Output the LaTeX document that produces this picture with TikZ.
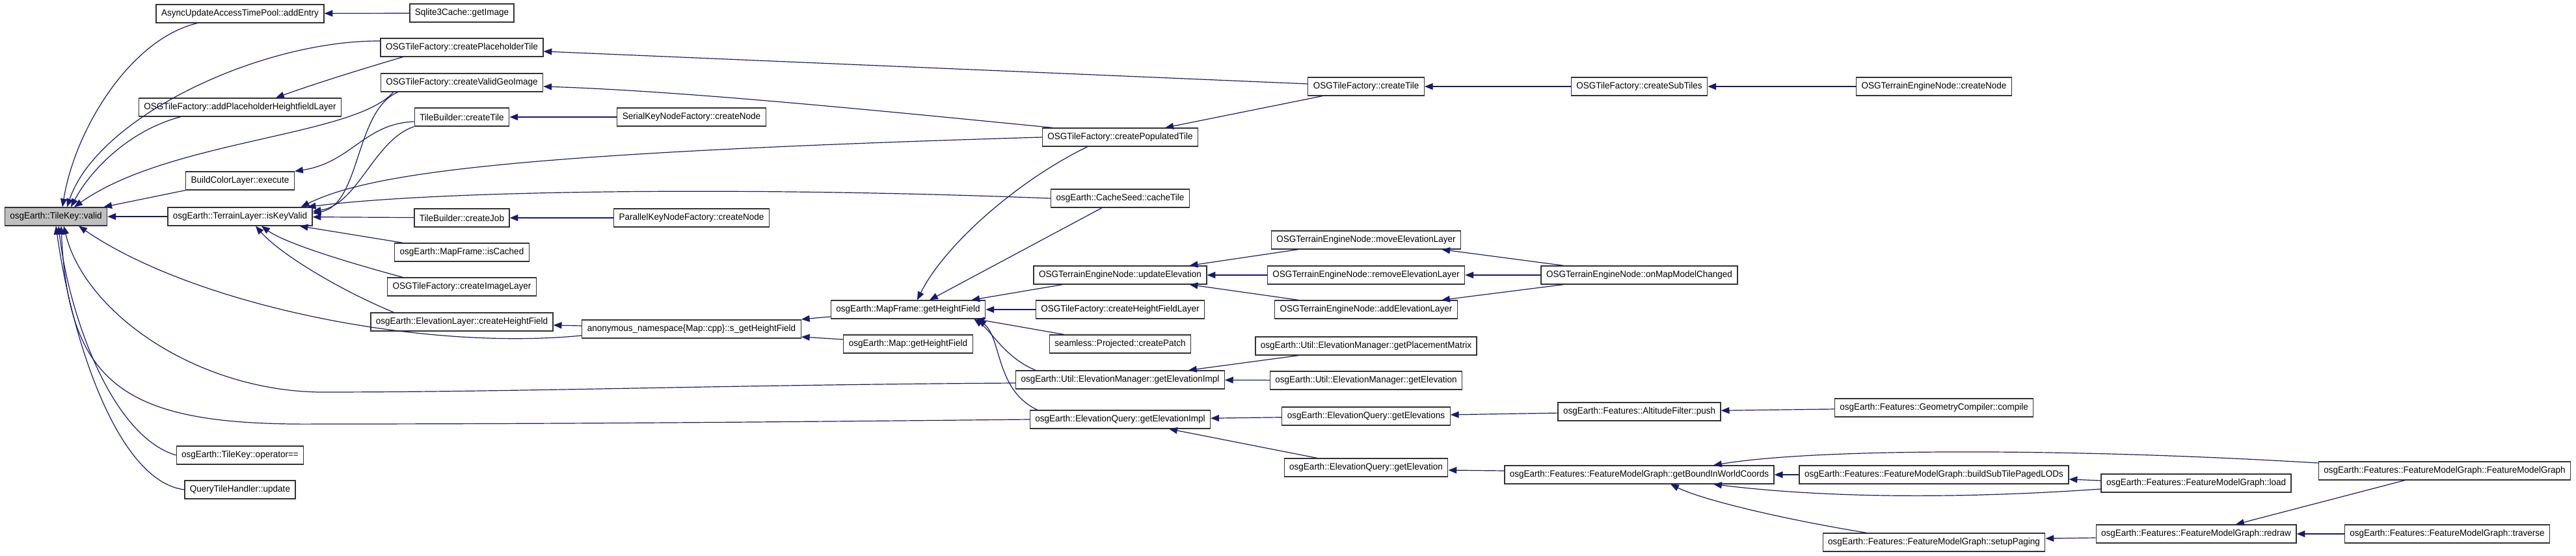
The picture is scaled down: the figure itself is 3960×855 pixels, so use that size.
\documentclass[tikz,border=0pt]{standalone}
\usepackage{fontspec}
\setmainfont{Liberation Sans}[FakeStretch=0.96]
\usetikzlibrary{arrows.meta}
\definecolor{callblue}{HTML}{191970}
\begin{document}
\begin{tikzpicture}[x=0.25mm, y=-0.25mm,
  fnbox/.style={draw=black!80, line width=0.9pt, rectangle, fill=white,
                minimum height=7mm, inner xsep=2mm,
                font=\fontsize{10}{12}\selectfont},
  rootbox/.style={fnbox, fill=black!25},
  call/.style={draw=callblue, line width=0.85pt,
               -{Triangle[length=3.2mm, width=2.5mm]}},
]
\useasboundingbox (0,0) rectangle (3960,855);
\node[rootbox] (valid) at (86,333) {osgEarth::TileKey::valid};
\node[fnbox] (addentry) at (369,21) {AsyncUpdateAccessTimePool::addEntry};
\node[fnbox] (addplaceholder) at (369,165) {OSGTileFactory::addPlaceholderHeightfieldLayer};
\node[fnbox] (buildcolor) at (369,278) {BuildColorLayer::execute};
\node[fnbox] (keyvalid) at (369,333) {osgEarth::TerrainLayer::isKeyValid};
\node[fnbox] (opeq) at (369,700) {osgEarth::TileKey::operator==};
\node[fnbox] (querytile) at (369,753) {QueryTileHandler::update};
\node[fnbox] (sqlite) at (710,20) {Sqlite3Cache::getImage};
\node[fnbox] (placeholdertile) at (710,73) {OSGTileFactory::createPlaceholderTile};
\node[fnbox] (validgeo) at (710,127) {OSGTileFactory::createValidGeoImage};
\node[fnbox] (tbtile) at (710,180) {TileBuilder::createTile};
\node[fnbox] (tbjob) at (710,335) {TileBuilder::createJob};
\node[fnbox] (iscached) at (710,388) {osgEarth::MapFrame::isCached};
\node[fnbox] (imagelayer) at (710,441) {OSGTileFactory::createImageLayer};
\node[fnbox] (elevhf) at (710,495) {osgEarth::ElevationLayer::createHeightField};
\node[fnbox] (serialnode) at (1063,180) {SerialKeyNodeFactory::createNode};
\node[fnbox] (parallelnode) at (1063,335) {ParallelKeyNodeFactory::createNode};
\node[fnbox] (sgethf) at (1063,506) {anonymous\_namespace\{Map::cpp\}::s\_getHeightField};
\node[fnbox] (mfgethf) at (1396,476) {osgEarth::MapFrame::getHeightField};
\node[fnbox] (mapgethf) at (1396,529) {osgEarth::Map::getHeightField};
\node[fnbox] (populated) at (1722,211) {OSGTileFactory::createPopulatedTile};
\node[fnbox] (cacheseed) at (1722,305) {osgEarth::CacheSeed::cacheTile};
\node[fnbox] (updelev) at (1722,423) {OSGTerrainEngineNode::updateElevation};
\node[fnbox] (hflayer) at (1722,476) {OSGTileFactory::createHeightFieldLayer};
\node[fnbox] (createpatch) at (1722,529) {seamless::Projected::createPatch};
\node[fnbox] (emelevimpl) at (1722,584) {osgEarth::Util::ElevationManager::getElevationImpl};
\node[fnbox] (eqelevimpl) at (1722,645) {osgEarth::ElevationQuery::getElevationImpl};
\node[fnbox] (createtile) at (2100,133) {OSGTileFactory::createTile};
\node[fnbox] (moveelev) at (2100,369) {OSGTerrainEngineNode::moveElevationLayer};
\node[fnbox] (removeelev) at (2100,423) {OSGTerrainEngineNode::removeElevationLayer};
\node[fnbox] (addelev) at (2100,476) {OSGTerrainEngineNode::addElevationLayer};
\node[fnbox] (placement) at (2100,532) {osgEarth::Util::ElevationManager::getPlacementMatrix};
\node[fnbox] (emelev) at (2100,585) {osgEarth::Util::ElevationManager::getElevation};
\node[fnbox] (eqelevs) at (2100,640) {osgEarth::ElevationQuery::getElevations};
\node[fnbox] (eqelev) at (2100,719) {osgEarth::ElevationQuery::getElevation};
\node[fnbox] (subtiles) at (2520,133) {OSGTileFactory::createSubTiles};
\node[fnbox] (mapmodel) at (2520,423) {OSGTerrainEngineNode::onMapModelChanged};
\node[fnbox] (altpush) at (2520,633) {osgEarth::Features::AltitudeFilter::push};
\node[fnbox] (boundwc) at (2520,730) {osgEarth::Features::FeatureModelGraph::getBoundInWorldCoords};
\node[fnbox] (tecreatenode) at (2973,133) {OSGTerrainEngineNode::createNode};
\node[fnbox] (geomcompile) at (2973,627) {osgEarth::Features::GeometryCompiler::compile};
\node[fnbox] (buildlods) at (2973,730) {osgEarth::Features::FeatureModelGraph::buildSubTilePagedLODs};
\node[fnbox] (setuppaging) at (2973,834) {osgEarth::Features::FeatureModelGraph::setupPaging};
\node[fnbox] (fmgload) at (3376,743) {osgEarth::Features::FeatureModelGraph::load};
\node[fnbox] (fmgredraw) at (3376,821) {osgEarth::Features::FeatureModelGraph::redraw};
\node[fnbox] (fmgctor) at (3758,724) {osgEarth::Features::FeatureModelGraph::FeatureModelGraph};
\node[fnbox] (fmgtraverse) at (3762,821) {osgEarth::Features::FeatureModelGraph::traverse};
\draw[call] ([xshift=16mm]addentry.south west) .. controls (200,60) and (115,200) .. ([xshift=2.5mm]valid.north);
\draw[call] ([yshift=2.5mm]placeholdertile.west) .. controls (400,62) and (150,180) .. ([xshift=4.25mm]valid.north);
\draw[call] ([xshift=8.75mm]placeholdertile.south west) .. controls (560,105) and (480,130) .. ([xshift=13.75mm]addplaceholder.north);
\draw[call] ([xshift=16.25mm]addplaceholder.south west) .. controls (200,200) and (140,260) .. ([xshift=5.75mm]valid.north);
\draw[call] ([xshift=5mm]validgeo.south west) .. controls (545,210) and (260,215) .. ([xshift=7mm]valid.north);
\draw[call] (buildcolor.south west) -- ([xshift=-1.5mm]valid.north east);
\draw[call] (keyvalid) -- (valid);
\draw[call] ([yshift=-1.75mm]tbtile.west) .. controls (560,190) and (540,250) .. (buildcolor.north east);
\draw[call] ([xshift=6.75mm]validgeo.south west) .. controls (545,170) and (555,315) .. ([yshift=1.25mm]keyvalid.east);
\draw[call] (tbtile.south west) .. controls (575,215) and (550,315) .. ([yshift=2mm]keyvalid.east);
\draw[call] (populated.west) .. controls (800,235) and (570,265) .. ([xshift=-4.5mm]keyvalid.north east);
\draw[call] (cacheseed.west) .. controls (1100,285) and (650,295) .. ([xshift=-2mm]keyvalid.north east);
\draw[call] (tbjob) -- (keyvalid);
\draw[call] ([xshift=3.25mm]iscached.north west) -- ([xshift=-5mm]keyvalid.south east);
\draw[call] ([xshift=6mm]imagelayer.north west) .. controls (540,405) and (440,375) .. ([xshift=8.25mm]keyvalid.south);
\draw[call] ([xshift=9mm]elevhf.north west) .. controls (520,445) and (430,390) .. ([xshift=6mm]keyvalid.south);
\draw[call] ([yshift=-2.5mm]sgethf.west) .. controls (650,540) and (300,470) .. ([xshift=8.75mm]valid.south);
\draw[call] ([yshift=-1.25mm]emelevimpl.west) .. controls (1100,592) and (800,603) .. (491,603)
  .. controls (300,600) and (130,480) .. ([xshift=3mm]valid.south);
\draw[call] (eqelevimpl.west) .. controls (1100,650) and (800,652) .. (491,652)
  .. controls (200,655) and (105,600) .. ([xshift=2mm]valid.south);
\draw[call] (opeq.west) .. controls (170,670) and (105,480) .. ([xshift=1mm]valid.south);
\draw[call] (querytile.west) .. controls (180,740) and (110,520) .. (valid.south);
\draw[call] (sqlite) -- (addentry);
\draw[call] ([yshift=1mm]createtile.west) -- ([yshift=-1.5mm]placeholdertile.east);
\draw[call] ([xshift=5.75mm]createtile.south west) -- ([xshift=-12.75mm]populated.north east);
\draw[call] ([xshift=4mm]populated.north west) .. controls (1350,170) and (1050,140) .. ([yshift=-1.5mm]validgeo.east);
\draw[call] (subtiles) -- (createtile);
\draw[call] (tecreatenode) -- (subtiles);
\draw[call] (serialnode) -- (tbtile);
\draw[call] (parallelnode) -- (tbjob);
\draw[call] ([yshift=1.25mm]sgethf.west) -- ([yshift=-1.25mm]elevhf.east);
\draw[call] ([yshift=-2.75mm]mfgethf.west) -- ([yshift=3.75mm]sgethf.east);
\draw[call] ([yshift=1.75mm]mapgethf.west) -- ([yshift=-3mm]sgethf.east);
\draw[call] ([xshift=17.5mm]populated.south west) .. controls (1560,280) and (1450,380) .. ([xshift=3.5mm]mfgethf.north);
\draw[call] ([xshift=19.75mm]cacheseed.south west) -- ([xshift=8.25mm]mfgethf.north);
\draw[call] ([xshift=11.25mm]updelev.south west) -- ([xshift=-5.5mm]mfgethf.north east);
\draw[call] (hflayer) -- (mfgethf);
\draw[call] ([xshift=5.75mm]createpatch.north west) -- ([xshift=-3.75mm]mfgethf.south east);
\draw[call] ([xshift=7.75mm]emelevimpl.north west) .. controls (1545,550) and (1525,510) .. ([xshift=-4.5mm]mfgethf.south east);
\draw[call] ([xshift=3mm]eqelevimpl.north west) .. controls (1530,600) and (1540,520) .. ([xshift=-3mm]mfgethf.south east);
\draw[call] ([xshift=10.5mm]moveelev.south west) -- ([xshift=-6.75mm]updelev.north east);
\draw[call] (removeelev) -- (updelev);
\draw[call] ([xshift=9.25mm]addelev.north west) -- ([xshift=-6.75mm]updelev.south east);
\draw[call] ([xshift=8.75mm]mapmodel.north west) -- ([xshift=-7.5mm]moveelev.south east);
\draw[call] (mapmodel) -- (removeelev);
\draw[call] ([xshift=8.75mm]mapmodel.south west) -- ([xshift=-6.25mm]addelev.north east);
\draw[call] ([xshift=16.75mm]placement.south west) -- ([xshift=-14mm]emelevimpl.north east);
\draw[call] (emelev) -- (emelevimpl);
\draw[call] (eqelevs) -- (eqelevimpl);
\draw[call] ([xshift=12.75mm]eqelev.north west) -- ([xshift=-16mm]eqelevimpl.south east);
\draw[call] (altpush) -- (eqelevs);
\draw[call] (geomcompile) -- (altpush);
\draw[call] ([yshift=1.5mm]boundwc.west) -- ([yshift=-1mm]eqelev.east);
\draw[call] (buildlods) -- (boundwc);
\draw[call] ([yshift=3mm]fmgctor.west) .. controls (3200,690) and (2800,688) .. ([xshift=28.5mm]boundwc.north);
\draw[call] ([yshift=-2.25mm]fmgload.west) .. controls (3000,768) and (2800,765) .. ([xshift=28.5mm]boundwc.south);
\draw[call] ([yshift=1mm]fmgload.west) -- ([yshift=-1.75mm]buildlods.east);
\draw[call] ([xshift=17mm]setuppaging.north west) .. controls (2750,800) and (2620,770) .. ([xshift=12mm]boundwc.south);
\draw[call] ([yshift=-1.5mm]fmgredraw.west) -- ([yshift=1.5mm]setuppaging.east);
\draw[call] ([xshift=33.25mm]fmgctor.south west) -- ([xshift=15.25mm]fmgredraw.north);
\draw[call] (fmgtraverse) -- (fmgredraw);
\end{tikzpicture}
\end{document}
